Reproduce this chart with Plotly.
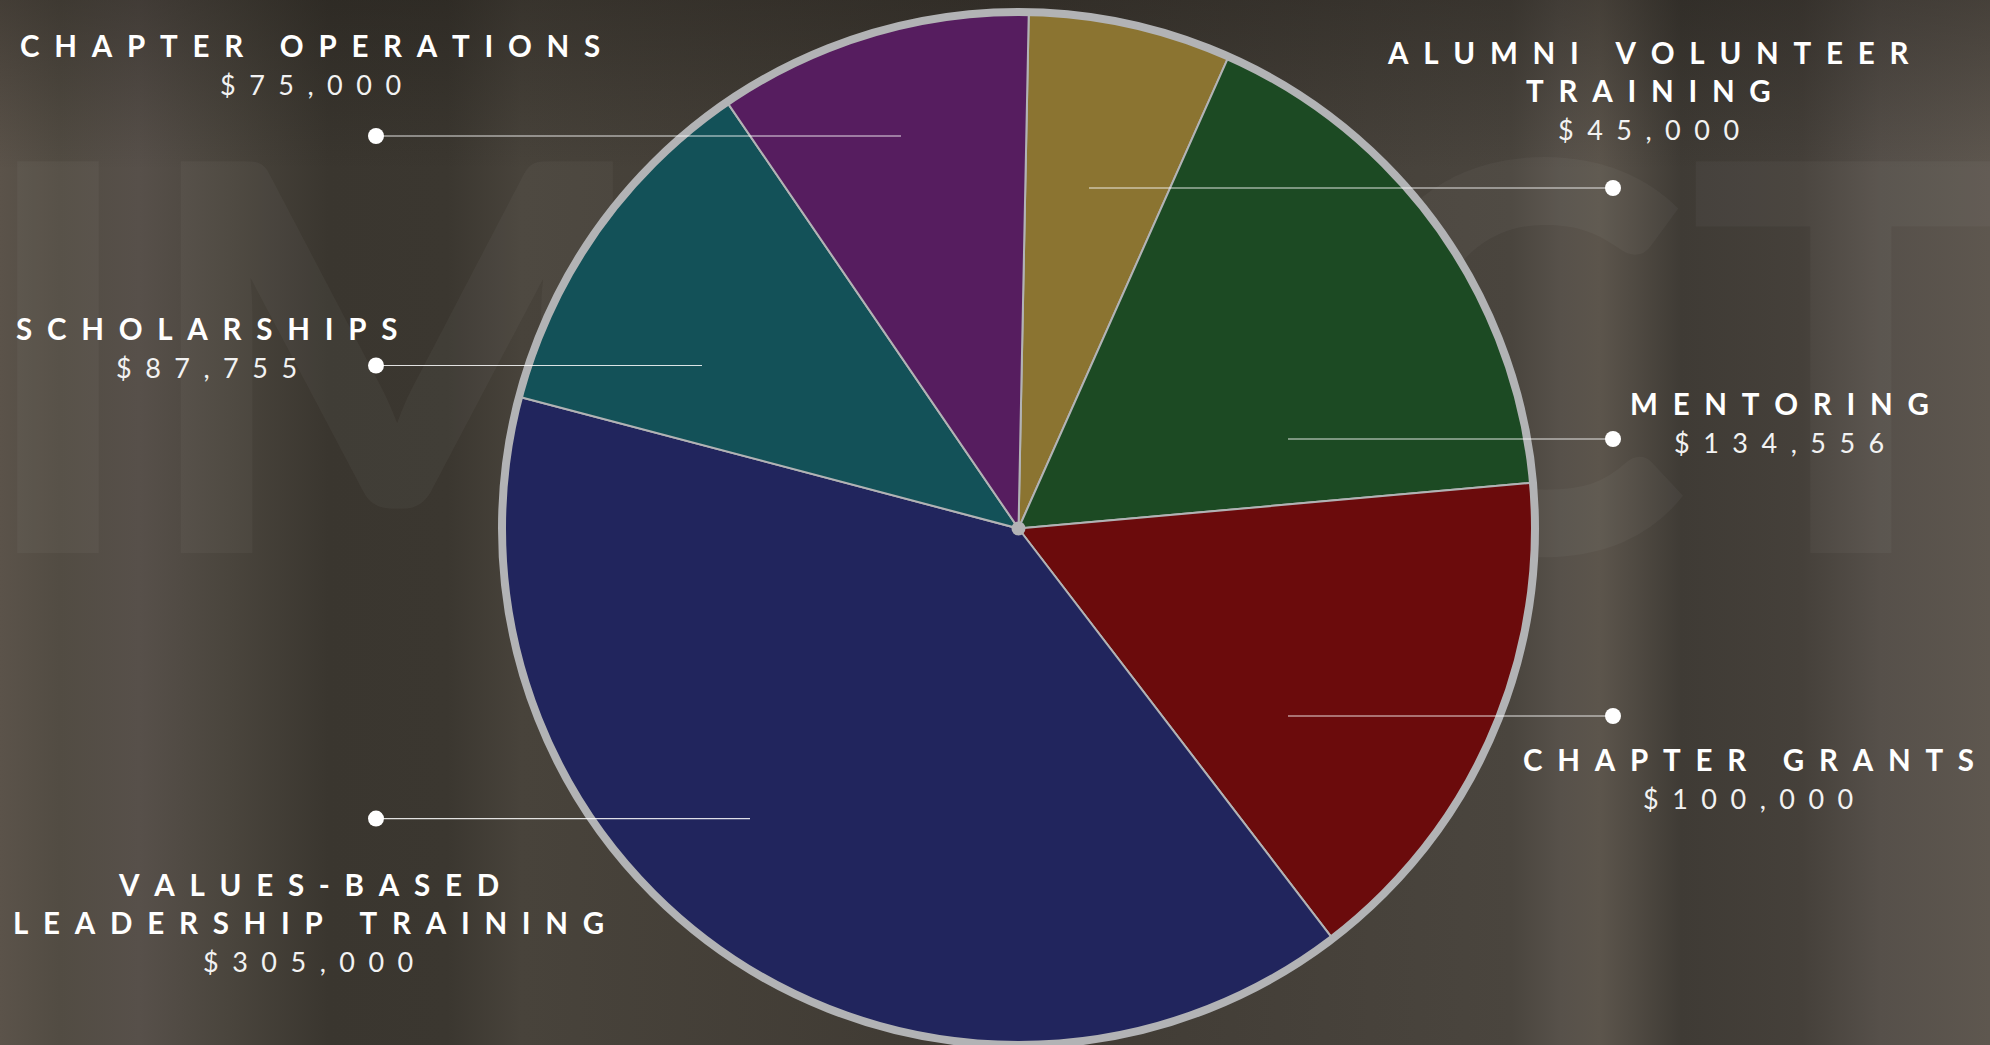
import plotly.graph_objects as go

W, H = 1990, 1045

# ---------------- data ----------------
categories = ["Alumni Volunteer Training", "Mentoring", "Chapter Grants",
              "Values-Based Leadership Training", "Scholarships", "Chapter Operations"]
amounts = [45000, 134556, 100000, 305000, 87755, 75000]
# slice sizes as drawn in the reference picture (percent of the circle)
slice_share_pct = [6.35, 16.92, 16.01, 39.51, 11.35, 9.86]
label_lines = [["ALUMNI VOLUNTEER", "TRAINING"], ["MENTORING"], ["CHAPTER GRANTS"],
               ["VALUES-BASED", "LEADERSHIP TRAINING"], ["SCHOLARSHIPS"], ["CHAPTER OPERATIONS"]]
background_word = "IMPACT"

# ---------------- styles / layout ----------------
slice_colors = ["#8b7431", "#1c4a23", "#6b0b0c", "#21255d", "#135158", "#561d5f"]
rim_color = "#b2b3b5"
pie_cx, pie_cy, pie_r = 1018.5, 528.5, 516.5      # pixels from top-left
pie_rotation = 1.14

# label placement: text centre x, first-line y, dot side, dot y, inner end x of connector
label_pos = [
    dict(tx=1648, ty=52, side="right", dy=188, ix=1089),
    dict(tx=1779, ty=403.6, side="right", dy=439, ix=1288),
    dict(tx=1748, ty=759, side="right", dy=716, ix=1288),
    dict(tx=308, ty=884.5, side="left", dy=818.6, ix=750),
    dict(tx=206, ty=328.7, side="left", dy=365.5, ix=702),
    dict(tx=310, ty=45.7, side="left", dy=136, ix=901),
]
dot_x = {"left": 376, "right": 1613}
LINE_GAP, AMOUNT_GAP = 38, 39

EN, NB = "\u2002", "\u00a0"


def spaced(s):
    return (EN + NB + EN).join(EN.join(w) for w in s.split(" "))


def domain(cx, cy, rx, ry):
    return dict(x=[(cx - rx) / W, (cx + rx) / W],
                y=[max(0, (H - cy - ry) / H), min(1, (H - cy + ry) / H)])


fig = go.Figure()

# background gradient (photo-like vertical bands)
bg_scale = [
    [0.000, "#5b534a"], [0.030, "#524c43"], [0.070, "#57504a"], [0.115, "#4a453d"],
    [0.165, "#3a362f"], [0.225, "#3b3730"], [0.262, "#48433b"], [0.50, "#3f3a33"],
    [0.760, "#4a453e"], [0.784, "#57514a"], [0.804, "#5c554c"], [0.845, "#3f3b35"],
    [0.905, "#45403a"], [0.945, "#56504a"], [1.000, "#5e574f"],
]
fig.add_trace(go.Scatter(
    x=[0, W, W, 0, 0], y=[0, 0, H, H, 0], mode="lines", fill="toself",
    line=dict(width=0), fillgradient=dict(type="horizontal", colorscale=bg_scale),
    hoverinfo="skip", showlegend=False))
fig.add_trace(go.Scatter(
    x=[0, W, W, 0, 0], y=[0, 0, 170, 170, 0], mode="lines", fill="toself",
    line=dict(width=0),
    fillgradient=dict(type="vertical", start=0, stop=170,
                      colorscale=[[0, "rgba(25,22,18,0.35)"], [1, "rgba(25,22,18,0)"]]),
    hoverinfo="skip", showlegend=False))

# faint giant background word
fig.add_trace(go.Scatter(
    x=[995], y=[418], mode="text", text=[background_word],
    textfont=dict(family="Lato", size=540, weight=900, color="rgba(255,255,255,0.035)"),
    textposition="middle center", hoverinfo="skip", showlegend=False, cliponaxis=True))

# main pie
fig.add_trace(go.Pie(
    labels=categories, values=slice_share_pct, sort=False, direction="clockwise",
    rotation=pie_rotation, textinfo="none", hoverinfo="label",
    marker=dict(colors=slice_colors, line=dict(color=rim_color, width=2)),
    domain=domain(pie_cx, pie_cy, pie_r + 6, pie_r), showlegend=False))
# outer rim
fig.add_trace(go.Pie(
    values=[1], sort=False, textinfo="none", hoverinfo="skip",
    marker=dict(colors=["rgba(0,0,0,0)"], line=dict(color=rim_color, width=8)),
    domain=domain(pie_cx, pie_cy, pie_r + 6, pie_r), showlegend=False))
# centre hub
fig.add_trace(go.Pie(
    values=[1], textinfo="none", hoverinfo="skip",
    marker=dict(colors=[rim_color], line=dict(width=0)),
    domain=domain(pie_cx, pie_cy, 7, 7), showlegend=False))

annotations, shapes = [], []
for lines, amt, p in zip(label_lines, amounts, label_pos):
    y = p["ty"]
    for i, ln in enumerate(lines):
        if i:
            y += LINE_GAP
        annotations.append(dict(
            x=p["tx"], y=y, xref="x", yref="y", text=spaced(ln), showarrow=False,
            xanchor="center", yanchor="middle",
            font=dict(family="Lato", size=29.5, weight=700, color="#ffffff")))
    annotations.append(dict(
        x=p["tx"], y=y + AMOUNT_GAP, xref="x", yref="y", text=spaced(f"${amt:,}"),
        showarrow=False, xanchor="center", yanchor="middle",
        font=dict(family="Lato", size=27, weight=400, color="#f2f2f2")))
    dx = dot_x[p["side"]]
    shapes.append(dict(type="line", xref="x", yref="y", x0=p["ix"], x1=dx,
                       y0=p["dy"], y1=p["dy"], layer="above",
                       line=dict(color="rgba(255,255,255,0.85)", width=1.2)))
    shapes.append(dict(type="circle", xref="x", yref="y", x0=dx - 8, x1=dx + 8,
                       y0=p["dy"] - 8, y1=p["dy"] + 8, layer="above",
                       fillcolor="#ffffff", line=dict(width=0)))

fig.update_layout(
    width=W, height=H, margin=dict(l=0, r=0, t=0, b=0),
    paper_bgcolor="#47423b", plot_bgcolor="rgba(0,0,0,0)", showlegend=False,
    xaxis=dict(range=[0, W], visible=False, fixedrange=True),
    yaxis=dict(range=[H, 0], visible=False, fixedrange=True),
    annotations=annotations, shapes=shapes,
)

fig.write_html("out.html", config={"displayModeBar": False},
               post_script="document.body.style.margin='0';document.body.style.overflow='hidden';")
